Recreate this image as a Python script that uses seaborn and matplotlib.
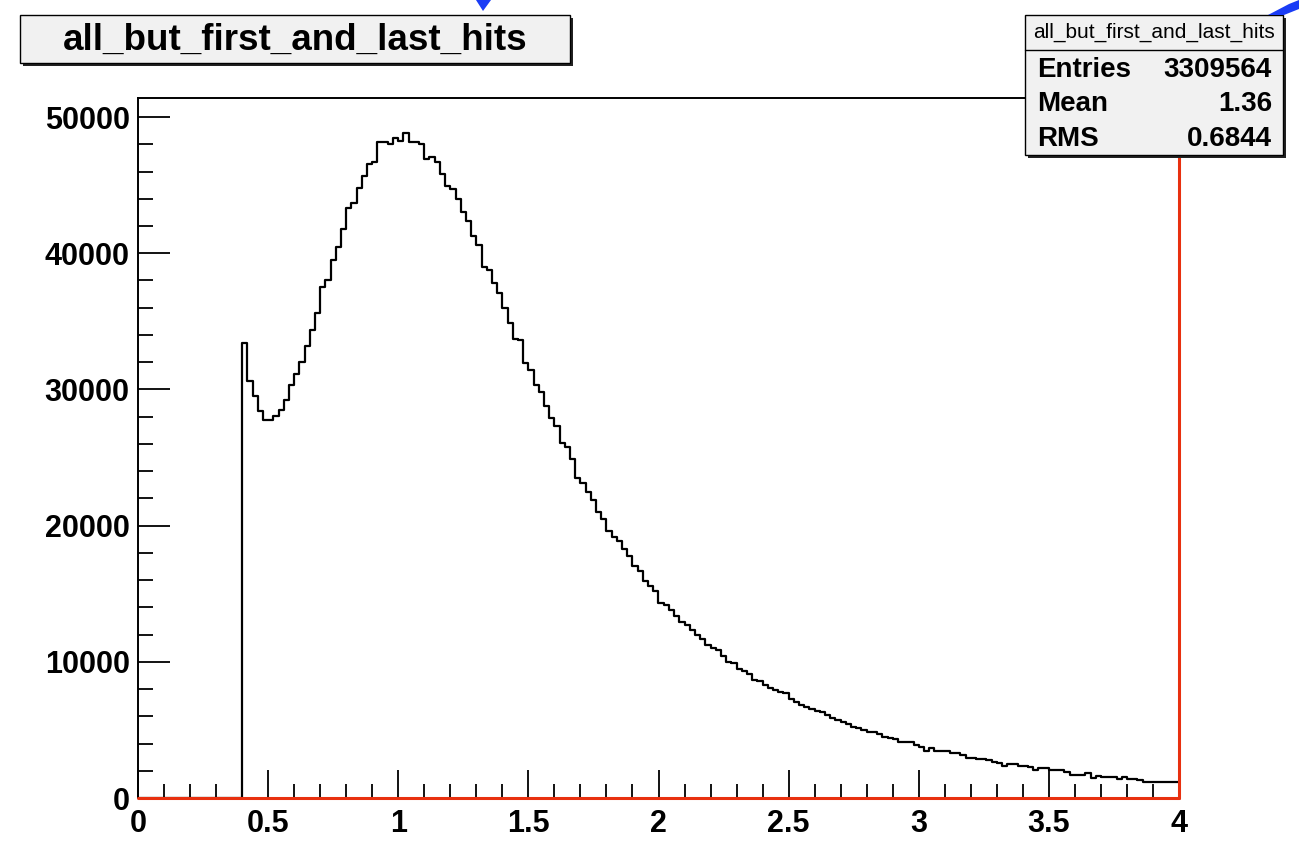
import numpy as np
import pandas as pd
import matplotlib
matplotlib.use("Agg")
import matplotlib.pyplot as plt
from matplotlib.patches import Rectangle, Polygon
from matplotlib.lines import Line2D
from matplotlib.ticker import MultipleLocator, FuncFormatter
import seaborn as sns

# ---------------- data ----------------
title = "all_but_first_and_last_hits"
stat_labels = ["Entries", "Mean", "RMS"]
stat_values = ["3309564", "1.36", "0.6844"]
x_lo, x_hi, bin_w = 0.0, 4.0, 0.02
# bins 0.00 .. 0.38 are empty
empty_counts = [0] * 20
# bins 0.40 .. 3.98 (width 0.02)
counts = [
    33400, 30600, 29500, 28400, 27750, 27750, 28050, 28500, 29200, 30300,
    31100, 32050, 33200, 34400, 35600, 37550, 38000, 39500, 40450, 41800,
    43300, 43700, 44800, 45700, 46550, 46700, 48150, 48200, 48000, 48450,
    48250, 48800, 48200, 48150, 48050, 46900, 47050, 46700, 45800, 44950,
    44750, 44000, 43000, 42400, 41300, 40600, 39000, 38750, 37850, 37100,
    36000, 34850, 33700, 33650, 31950, 31450, 30300, 29800, 28800, 27900,
    27300, 26100, 25800, 24900, 23500, 23100, 22500, 21900, 21000, 20500,
    19600, 19200, 18900, 18300, 17800, 17000, 16700, 15900, 15600, 15200,
    14300, 14200, 13800, 13400, 12900, 12700, 12300, 12000, 11650, 11200,
    11050, 10900, 10400, 10000, 9900, 9500, 9350, 9100, 8650, 8600,
    8300, 8050, 7900, 7750, 7700, 7300, 7070, 6830, 6700, 6500,
    6400, 6300, 6100, 5850, 5700, 5600, 5450, 5200, 5150, 5000,
    4870, 4860, 4700, 4500, 4400, 4310, 4110, 4100, 4080, 3890,
    3770, 3450, 3650, 3480, 3470, 3440, 3330, 3320, 3130, 2950,
    2940, 2850, 2840, 2800, 2670, 2550, 2350, 2500, 2490, 2380,
    2370, 2250, 2060, 2180, 2170, 2070, 2060, 2030, 1930, 1700,
    1690, 1680, 1860, 1500, 1620, 1550, 1520, 1510, 1370, 1520,
    1370, 1370, 1350, 1210, 1200, 1190, 1200, 1180, 1190, 1170,
]
y_max = 51400

# ---------------- style ----------------
sns.set_style("white")
plt.rcParams["font.family"] = ["Liberation Sans", "DejaVu Sans"]
plt.rcParams["text.color"] = "black"
plt.rcParams["xtick.color"] = "black"
plt.rcParams["ytick.color"] = "black"

W, H = 1299, 841
fig = plt.figure(figsize=(W / 100, H / 100), dpi=100)
fig.patch.set_facecolor("white")


def fx(px):
    return px / W


def fy(py):
    return 1 - py / H


ax = fig.add_axes([fx(138), fy(798), (1179 - 138) / W, (798 - 98) / H])
ax.set_facecolor("white")

all_counts = empty_counts + counts
n_bins = len(all_counts)
centers = x_lo + bin_w * (np.arange(n_bins) + 0.5)
df = pd.DataFrame({"x": centers, "w": np.array(all_counts, dtype=float)})

sns.histplot(data=df, x="x", weights="w", binwidth=bin_w, binrange=(x_lo, x_hi),
             element="step", fill=False, color="black", linewidth=1.6, ax=ax)

ax.set_xlim(x_lo, x_hi)
ax.set_ylim(0, y_max)
ax.set_xlabel("")
ax.set_ylabel("")

for s in ax.spines.values():
    s.set_color("black")
    s.set_linewidth(1.4)

red = "#e8300f"
ax.add_line(Line2D([x_lo, x_hi], [0, 0], color=red, lw=2.2, zorder=6, clip_on=False))
ax.add_line(Line2D([x_hi, x_hi], [0, y_max], color=red, lw=2.2, zorder=6, clip_on=False))

ax.xaxis.set_major_locator(MultipleLocator(0.5))
ax.xaxis.set_minor_locator(MultipleLocator(0.1))
ax.yaxis.set_major_locator(MultipleLocator(10000))
ax.yaxis.set_minor_locator(MultipleLocator(2000))
ax.xaxis.set_major_formatter(FuncFormatter(lambda v, p: f"{v:g}"))
ax.yaxis.set_major_formatter(FuncFormatter(lambda v, p: f"{int(round(v))}"))

ax.tick_params(axis="both", which="both", direction="in", bottom=True, left=True,
               top=False, right=False, width=1.3, color="black",
               labelcolor="black", labelsize=22)
ax.tick_params(axis="x", which="major", length=20, pad=8)
ax.tick_params(axis="x", which="minor", length=10)
ax.tick_params(axis="y", which="major", length=23, pad=6)
ax.tick_params(axis="y", which="minor", length=11)
for lab in ax.get_xticklabels() + ax.get_yticklabels():
    lab.set_fontweight("bold")


def box(x0, y0, x1, y1, shadow=3):
    fig.patches.append(Rectangle((fx(x0 + shadow), fy(y1 + shadow)), (x1 - x0) / W,
                                 (y1 - y0) / H, transform=fig.transFigure,
                                 facecolor="#222222", edgecolor="none", zorder=8))
    fig.patches.append(Rectangle((fx(x0), fy(y1)), (x1 - x0) / W, (y1 - y0) / H,
                                 transform=fig.transFigure, facecolor="#f1f1f1",
                                 edgecolor="black", linewidth=1.0, zorder=9))


# title box
box(20, 15, 570, 63)
fig.text(fx(295), fy(40), title, ha="center", va="center", fontsize=26.5,
         fontweight="bold", zorder=10)

# stats box
box(1025, 15, 1283, 155)
fig.add_artist(Line2D([fx(1025), fx(1283)], [fy(50), fy(50)], transform=fig.transFigure,
                      color="black", lw=1.0, zorder=10))
fig.text(fx(1154), fy(32), title, ha="center", va="center", fontsize=15, zorder=10)
row_y = [70, 104, 139]
for lab, val, yy in zip(stat_labels, stat_values, row_y):
    fig.text(fx(1037), fy(yy), lab, ha="left", va="center", fontsize=20,
             fontweight="bold", zorder=10)
    fig.text(fx(1272), fy(yy), val, ha="right", va="center", fontsize=20,
             fontweight="bold", zorder=10)

# blue cursor fragments at the top edge
blue = "#1a3cf5"
fig.patches.append(Polygon([(fx(476), fy(0)), (fx(491), fy(0)), (fx(483), fy(11))],
                           closed=True, transform=fig.transFigure, facecolor=blue,
                           edgecolor="none", zorder=11))
fig.patches.append(Polygon([(fx(1268), fy(15)), (fx(1289), fy(4)), (fx(1299), fy(0)),
                            (fx(1299), fy(9)), (fx(1284), fy(15))],
                           closed=True, transform=fig.transFigure, facecolor=blue,
                           edgecolor="none", zorder=11))

fig.savefig("out.png", dpi=100, facecolor="white")
